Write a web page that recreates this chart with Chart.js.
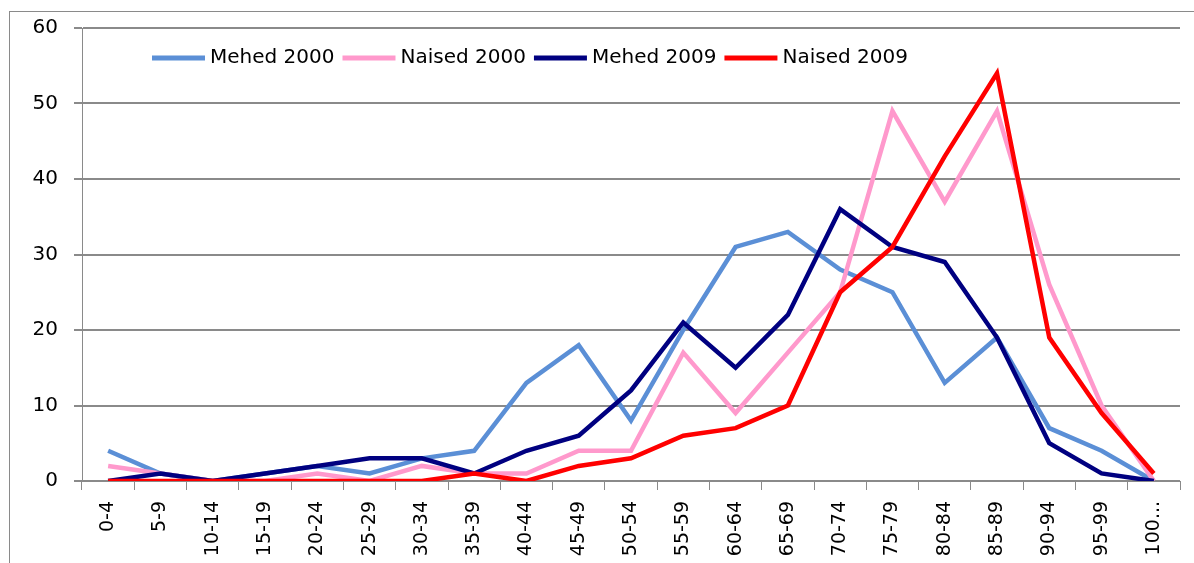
<!DOCTYPE html>
<html>
<head>
<meta charset="utf-8">
<script src="https://cdn.jsdelivr.net/npm/chart.js@4.4.0/dist/chart.umd.min.js"></script>
<style>
  html, body { margin: 0; padding: 0; background: #fff; }
  canvas { display: block; }
</style>
</head>
<body>
<canvas id="myChart" width="1194" height="563"></canvas>
<script>
// age groups on the x axis
var ageGroups = ['0-4', '5-9', '10-14', '15-19', '20-24', '25-29', '30-34', '35-39', '40-44', '45-49',
    '50-54', '55-59', '60-64', '65-69', '70-74', '75-79', '80-84', '85-89', '90-94', '95-99', '100...'];

// values
var mehed2000 = [4, 1, 0, 1, 2, 1, 3, 4, 13, 18, 8, 20, 31, 33, 28, 25, 13, 19, 7, 4, 0];
var naised2000 = [2, 1, 0, 0, 1, 0, 2, 1, 1, 4, 4, 17, 9, 17, 25, 49, 37, 49, 26, 10, 0];
var mehed2009 = [0, 1, 0, 1, 2, 3, 3, 1, 4, 6, 12, 21, 15, 22, 36, 31, 29, 19, 5, 1, 0];
var naised2009 = [0, 0, 0, 0, 0, 0, 0, 1, 0, 2, 3, 6, 7, 10, 25, 31, 43, 54, 19, 9, 1];

var yTicks = [0, 10, 20, 30, 40, 50, 60];

var gridColor = '#8a8a8a';

// outer frame of the chart object
var framePlugin = {
    id: 'frame',
    beforeDraw: function (chart) {
        var ctx = chart.ctx;
        ctx.save();
        ctx.strokeStyle = gridColor;
        ctx.lineWidth = 1;
        ctx.strokeRect(9.5, 11.5, 1300, 700);
        ctx.restore();
    }
};

// legend drawn inside the plot, like the original
var insideLegend = {
    id: 'insideLegend',
    afterDraw: function (chart) {
        var ctx = chart.ctx;
        var x = chart.chartArea.left + 70;
        var y = 58;
        ctx.save();
        ctx.font = '20px "DejaVu Sans"';
        ctx.textBaseline = 'middle';
        chart.data.datasets.forEach(function (ds) {
            ctx.strokeStyle = ds.borderColor;
            ctx.lineWidth = 5;
            ctx.beginPath();
            ctx.moveTo(x, y);
            ctx.lineTo(x + 53, y);
            ctx.stroke();
            x += 58;
            ctx.fillStyle = '#000';
            ctx.fillText(ds.label, x, y);
            x += ctx.measureText(ds.label).width + 8;
        });
        ctx.restore();
    }
};

Chart.defaults.font.family = '"DejaVu Sans"';
Chart.defaults.color = '#000';

var ctx = document.getElementById('myChart').getContext('2d');
var myChart = new Chart(ctx, {
    type: 'line',
    data: {
        labels: ageGroups,
        datasets: [{
            label: 'Mehed 2000',
            data: mehed2000,
            borderColor: '#5b8fd6',
            order: 4
        }, {
            label: 'Naised 2000',
            data: naised2000,
            borderColor: '#ff99cc',
            order: 3
        }, {
            label: 'Mehed 2009',
            data: mehed2009,
            borderColor: '#000080',
            order: 2
        }, {
            label: 'Naised 2009',
            data: naised2009,
            borderColor: '#ff0000',
            order: 1
        }]
    },
    options: {
        responsive: false,
        animation: false,
        elements: {
            line: { borderWidth: 4.5, tension: 0, borderJoinStyle: 'miter' },
            point: { radius: 0, hoverRadius: 0 }
        },
        layout: {
            padding: { left: 0, top: 27, right: 14, bottom: 0 }
        },
        plugins: {
            legend: { display: false },
            tooltip: { enabled: false }
        },
        scales: {
            x: {
                offset: true,
                grid: {
                    offset: true,
                    drawOnChartArea: false,
                    drawTicks: true,
                    tickLength: 9,
                    color: gridColor,
                    lineWidth: 1
                },
                border: { display: true, color: gridColor, width: 1 },
                ticks: {
                    minRotation: 90,
                    maxRotation: 90,
                    autoSkip: false,
                    padding: 11,
                    font: { size: 19 }
                },
                afterFit: function (scale) { scale.height = 82; }
            },
            y: {
                min: 0,
                max: 60,
                grid: {
                    color: gridColor,
                    lineWidth: 2,
                    tickLength: 8
                },
                border: { display: true, color: gridColor, width: 1 },
                ticks: {
                    padding: 16,
                    font: { size: 20 }
                },
                afterBuildTicks: function (scale) {
                    scale.ticks = yTicks.map(function (v) { return { value: v }; });
                },
                afterFit: function (scale) { scale.width = 82; }
            }
        }
    },
    plugins: [framePlugin, insideLegend]
});
</script>
</body>
</html>
